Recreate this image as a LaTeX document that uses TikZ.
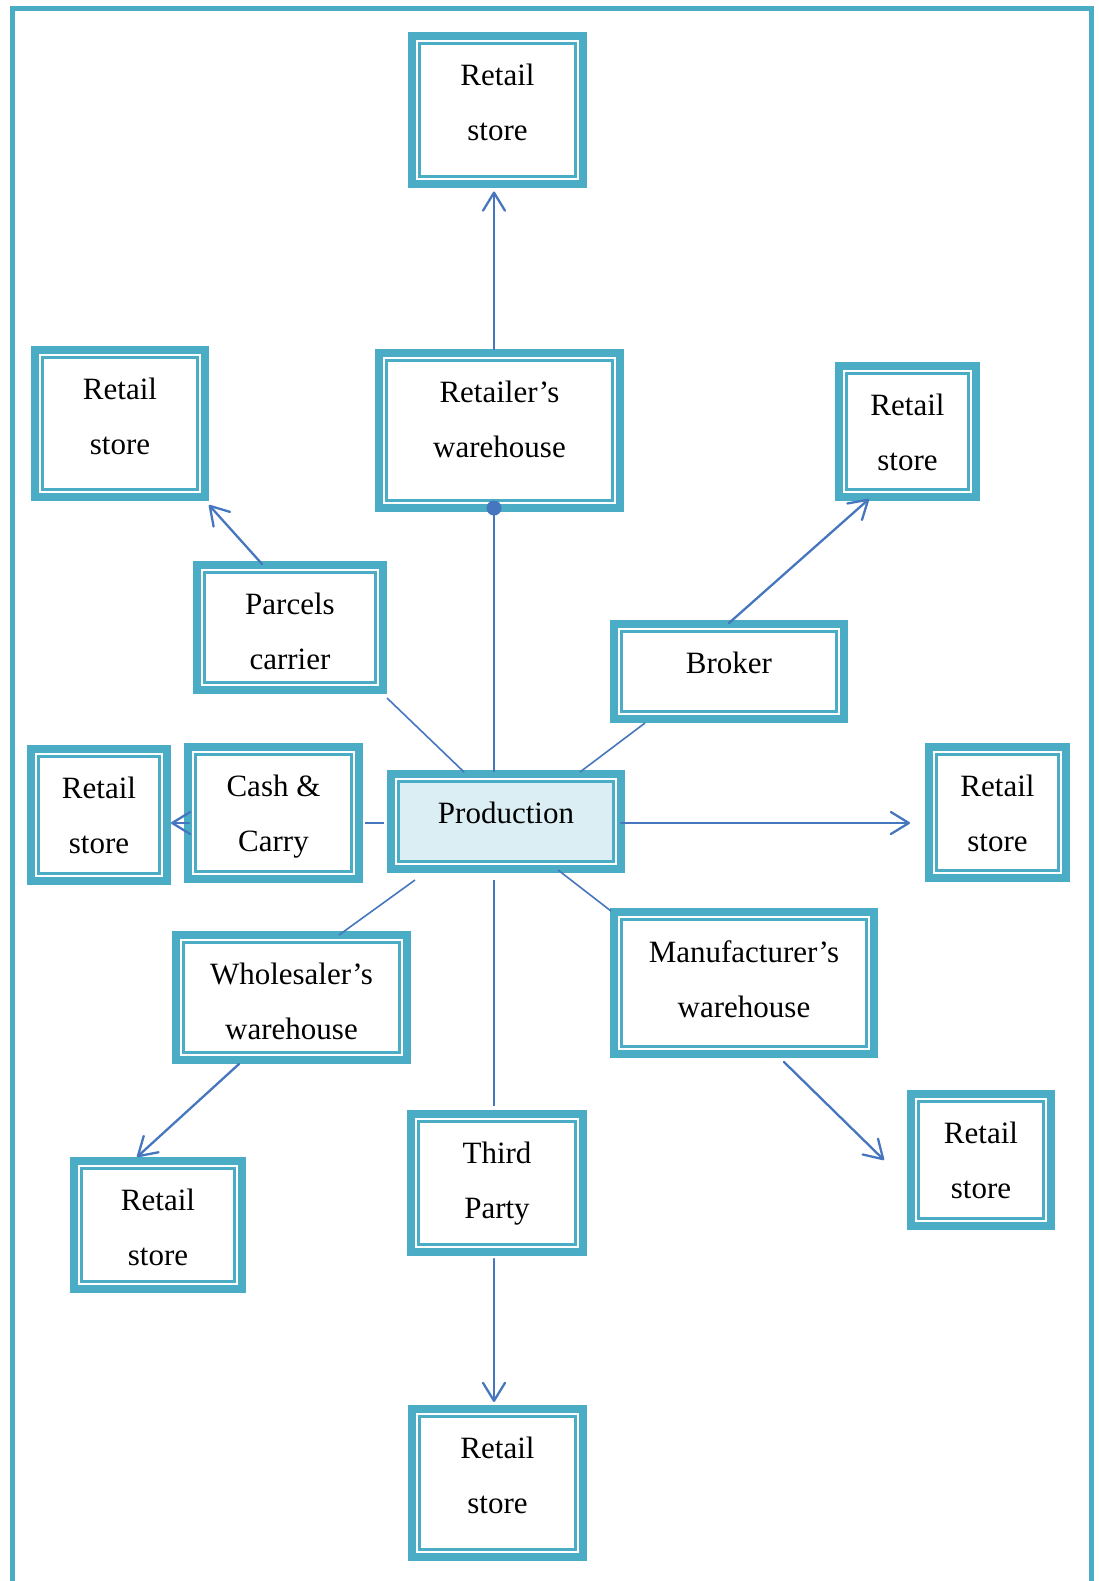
\documentclass[tikz,border=0pt]{standalone}
\usepackage{fontspec}
\setmainfont{Liberation Serif}
\usetikzlibrary{arrows.meta,calc}

\definecolor{band}{HTML}{4BACC6}
\definecolor{link}{HTML}{4676BE}
\definecolor{prodfill}{HTML}{DAEEF3}

\tikzset{
  outerband/.style={draw=band, line width=8pt, rectangle, inner sep=0pt},
  innerline/.style={draw=band, line width=2.5pt},
  boxtext/.style={inner sep=0pt, anchor=north, align=center,
    font=\fontsize{31}{55}\selectfont},
  conn/.style={draw=link, line width=2.3pt},
  thinconn/.style={draw=link, line width=1.6pt},
  arr/.style={conn, line cap=round, -{Straight Barb[length=18pt,width=22pt,round]}},
  frame/.style={draw=band, line width=5pt}
}

% \chbox[inner fill]{name}{left}{top}{right}{bottom}{text}
\newcommand{\chbox}[7][white]{%
  \node[outerband, minimum width={#5-#3-8}, minimum height={#6-#4-8}]
    (#2) at ({(#3+#5)/2},{(#4+#6)/2}) {};
  \draw[innerline, fill=#1] ({#3+11.5},{#4+11.5}) rectangle ({#5-11.5},{#6-11.5});
  \node[boxtext] (#2-t) at ({(#3+#5)/2},{#4+32}) {#7};
}

\begin{document}
\begin{tikzpicture}[x=1pt,y=-1pt]
\useasboundingbox (0,0) rectangle (1098,1581);

% page frame, open at the bottom
\draw[frame] (12.5,1581) -- (12.5,8.3) -- (1091.7,8.3) -- (1091.7,1581);

% boxes
\chbox{rsTop}{408}{32}{587}{188}{Retail\\store}
\chbox{rw}{375}{349}{624}{512}{Retailer’s\\warehouse}
\chbox{rsTL}{31}{346}{209}{501}{Retail\\store}
\chbox{rsTR}{835}{362}{980}{501}{Retail\\store}
\chbox{parcels}{193}{561}{387}{694}{Parcels\\carrier}
\chbox{broker}{610}{620}{848}{723}{Broker}
\chbox{rsL}{27}{745}{171}{885}{Retail\\store}
\chbox{cash}{184}{743}{363}{883}{Cash \&\\Carry}
\chbox[prodfill]{prod}{387}{770}{625}{873}{Production}
\chbox{rsR}{925}{743}{1070}{882}{Retail\\store}
\chbox{whole}{172}{931}{411}{1064}{Wholesaler’s\\warehouse}
\chbox{manu}{610}{908}{878}{1058}{Manufacturer’s\\warehouse}
\chbox{rsBL}{70}{1157}{246}{1293}{Retail\\store}
\chbox{rsBR}{907}{1090}{1055}{1230}{Retail\\store}
\chbox{third}{407}{1110}{587}{1256}{Third\\Party}
\chbox{rsB}{408}{1405}{587}{1561}{Retail\\store}

% Production -> Retailer's warehouse, ending in a dot
\draw[conn] ([xshift=-12pt,yshift=-2pt]prod.north)
  -- ([xshift=-5.5pt,yshift=4pt]rw.south) coordinate (rwdot);
\fill[link] (rwdot) circle (7.5pt);
\draw[arr] ([xshift=-5.5pt]rw.north) -- ([xshift=-3.5pt,yshift=-3.5pt]rsTop.south);

% Parcels carrier
\draw[thinconn] ([xshift=-42pt,yshift=-2pt]prod.north) -- ([yshift=-4pt]parcels.south east);
\draw[arr] ([xshift=-28pt,yshift=-3pt]parcels.north) -- ([yshift=-4pt]rsTL.south east);

% Broker
\draw[thinconn] ([xshift=74pt,yshift=-2pt]prod.north) -- ([xshift=-84pt]broker.south);
\draw[arr] ([yshift=-3pt]broker.north) -- ([xshift=-38.5pt,yshift=2pt]rsTR.south);

% Cash & Carry
\draw[conn] ([xshift=-3pt,yshift=-1.5pt]prod.west) -- ([xshift=2pt,yshift=-10pt]cash.east);
\draw[arr] ([xshift=5pt,yshift=-10pt]cash.west) -- ([yshift=-8pt]rsL.east);

% direct to retail store
\draw[arr] ([xshift=-4pt,yshift=-1.5pt]prod.east) -- ([xshift=-15pt,yshift=-10.5pt]rsR.west);

% Wholesaler's warehouse
\draw[thinconn] ([xshift=-91pt,yshift=-7pt]prod.south) -- ([xshift=47.5pt,yshift=-4pt]whole.north);
\draw[arr] ([xshift=-52.5pt]whole.south) -- ([xshift=-21pt]rsBL.north);

% Manufacturer's warehouse
\draw[thinconn] ([xshift=52pt,yshift=3pt]prod.south) -- ([xshift=1pt,yshift=-3pt]manu.north west);
\draw[arr] ([xshift=40pt,yshift=-4pt]manu.south) -- ([xshift=-23pt]rsBR.west);

% Third Party
\draw[conn] ([xshift=-12pt,yshift=-7pt]prod.south) -- ([xshift=-3pt,yshift=4pt]third.north);
\draw[arr] ([xshift=-3pt,yshift=-3pt]third.south) -- ([xshift=-3.5pt,yshift=3pt]rsB.north);
\end{tikzpicture}
\end{document}
